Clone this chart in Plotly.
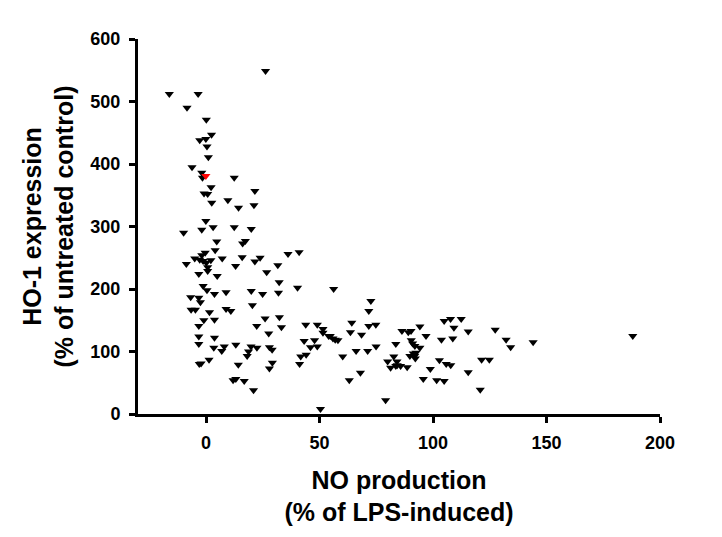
import plotly.graph_objects as go

# NO production (% of LPS-induced) vs HO-1 expression (% of untreated control)
no_production = [
    26.2, -16.2, -3.5, -8.4, 0.1, 2.4, -2.8, -0.1, 0.4, 1.0, -6.2, -1.9, -1.6, 12.4,
    2.2, 21.5, -0.9, 0.7, 9.6, 21.1, 14.3, 2.5, -0.1, -1.9, 3.1, 12.4, 19.9,
    -9.9, 4.7, 16.1, 17.3, 4.0, -0.4, -1.9, -8.7, -5.0, -2.8, -1.3, 0.1, 2.1,
    0.7, 0.7, -3.2, 4.9, 7.1, 13.0, 15.9, 21.5, 23.8, 36.1, 41.0, 31.6, 26.7,
    32.2, 40.3, -1.3, 0.4, 3.7, 8.8, 19.9, 24.9, 31.9, -6.8, -3.2, -2.5, -6.6,
    -4.7, 1.5, 8.8, 10.9, 20.4, -1.0, 3.7, 26.0, 32.3, -3.2, 22.3, 33.2, 27.6,
    43.9, 49.0, 51.5, 51.5, 54.0, -3.2, -3.2, 3.7, 3.4, 8.0, 6.9, 13.1, 19.8,
    18.7, 18.1, 22.4, 27.9, 29.1, 43.2, 47.8, 46.0, 49.0, 44.1, 41.7, 1.3, -3.0,
    -2.2, 14.2, 29.2, 27.9, 41.2, 11.9, 13.1, 16.8, 20.9, 50.4,
    56.2, 72.6, 71.7, 64.2, 63.6, 68.5, 71.7, 74.8, 54.7, 55.9, 58.1, 56.9,
    60.2, 66.1, 71.2, 74.9, 68.0, 63.1, 79.1, 83.6, 86.3, 89.1, 90.3, 94.2,
    96.9, 90.4, 91.0, 92.0, 94.2, 82.7, 80.0, 81.3, 84.1, 84.2, 85.7, 83.6,
    88.6, 89.8, 91.3, 92.2, 91.9, 92.5, 98.8, 95.7, 101.6, 104.9, 102.8, 105.8,
    107.8, 103.7, 104.9, 107.7, 112.4, 109.2, 108.7, 115.5, 115.5, 120.8, 121.4,
    124.8, 127.4, 132.2, 134.2, 144.1, 188.0,
]
ho1_expression = [
    549, 512, 512, 490, 471, 447, 438, 440, 428, 411, 395, 386, 378, 378,
    363, 357, 353, 352, 342, 334, 330, 338, 309, 295, 299, 299, 296,
    290, 276, 273, 277, 262, 258, 254, 240, 249, 247, 245, 242, 246,
    235, 229, 224, 221, 249, 237, 251, 244, 250, 256, 259, 238, 227,
    211, 202, 205, 198, 192, 195, 197, 192, 194, 187, 186, 179, 167,
    167, 163, 168, 165, 174, 150, 151, 153, 155, 141, 141, 139, 129,
    143, 143, 136, 130, 125, 124, 112, 122, 106, 108, 101, 111, 108,
    100, 93, 106, 107, 103, 117, 118, 107, 108, 95, 92, 87, 80,
    81, 79, 82, 73, 80, 54, 56, 53, 38, 8,
    200, 181, 165, 146, 131, 127, 141, 143, 125, 121, 118, 119,
    92, 101, 101, 108, 66, 54, 22, 112, 133, 131, 133, 140,
    125, 118, 113, 109, 106, 92, 84, 74, 84, 78, 77, 77,
    75, 93, 97, 89, 93, 98, 72, 56, 54, 53, 86, 80,
    78, 119, 149, 152, 152, 138, 121, 132, 67, 39, 87,
    87, 135, 119, 107, 115, 125,
]
# highlighted compound
highlight_x = [-0.1]
highlight_y = [381]

x_ticks = [0, 50, 100, 150, 200]
y_ticks = [0, 100, 200, 300, 400, 500, 600]

fig = go.Figure()
fig.add_trace(go.Scatter(
    x=no_production, y=ho1_expression, mode="markers",
    marker=dict(symbol="triangle-down", size=8, color="black",
                line=dict(width=0)),
    cliponaxis=False, showlegend=False,
))
fig.add_trace(go.Scatter(
    x=highlight_x, y=highlight_y, mode="markers",
    marker=dict(symbol="triangle-down", size=8, color="red",
                line=dict(width=0)),
    cliponaxis=False, showlegend=False,
))

axis_font = dict(family="Liberation Sans, Arial, sans-serif", size=18, color="black")
title_font = dict(family="Liberation Sans, Arial, sans-serif", size=25, color="black")

fig.update_layout(
    width=722, height=537,
    margin=dict(l=138, r=62, t=39, b=123),
    paper_bgcolor="white", plot_bgcolor="white",
    xaxis=dict(
        range=[-30, 200], tickvals=x_ticks, ticktext=[f"<b>{v}</b>" for v in x_ticks],
        showgrid=False, zeroline=False, showline=True, linecolor="black", linewidth=3,
        ticks="outside", ticklen=6, tickwidth=3, tickcolor="black",
        tickfont=axis_font, ticklabelstandoff=4,
        title=dict(text="<b>NO production<br>(% of LPS-induced)</b>", font=title_font,
                   standoff=20),
    ),
    yaxis=dict(
        range=[0, 600], tickvals=y_ticks, ticktext=[f"<b>{v}</b>" for v in y_ticks],
        showgrid=False, zeroline=False, showline=True, linecolor="black", linewidth=3,
        ticks="outside", ticklen=6, tickwidth=3, tickcolor="black",
        tickfont=axis_font, ticklabelstandoff=5,
        title=dict(text="<b>HO-1 expression<br>(% of untreated control)</b>", font=title_font,
                   standoff=10),
    ),
)

fig.write_html("out.html")
